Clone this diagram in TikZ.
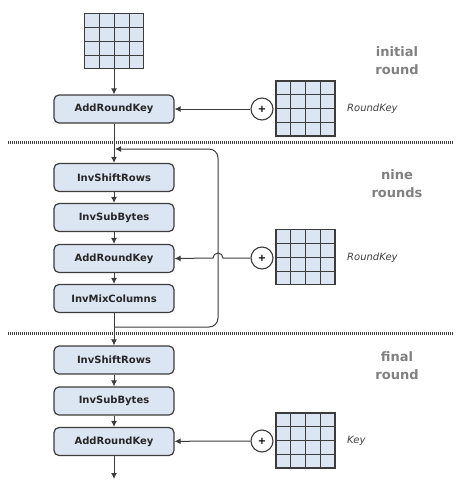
\documentclass[tikz,border=0pt]{standalone}
\usepackage{fontspec}
\setmainfont{DejaVu Sans}
\usetikzlibrary{arrows.meta,calc}
\definecolor{boxfill}{HTML}{DCE6F2}
\definecolor{edge}{HTML}{3C3C3C}
\begin{document}
\begin{tikzpicture}[x=1pt,y=-1pt,
 stage/.style={draw=edge,line width=1.2pt,fill=boxfill,rounded corners=5pt,minimum width=120pt,minimum height=28pt,inner sep=0pt,font=\bfseries\fontsize{10}{12}\selectfont,text=black!85},
 keygrid/.style={draw=edge,line width=1.1pt,fill=boxfill,minimum width=59pt,minimum height=55pt,inner sep=0pt},
 xorc/.style={circle,draw=edge,line width=1.1pt,fill=white,minimum size=22pt,inner sep=0pt,font=\bfseries\fontsize{10}{10}\selectfont},
 flow/.style={draw=edge,line width=1pt,-{Latex[length=6pt,width=6pt]}},
 lbl/.style={font=\bfseries\fontsize{13}{18}\selectfont,text=black!50,align=center},
 keylbl/.style={font=\itshape\fontsize{10}{12}\selectfont,text=black!75,anchor=west,inner sep=0pt},
 sep/.style={draw=edge,line width=3pt,dash pattern=on 1pt off 1pt},
 gridline/.style={draw=edge,line width=0.9pt}]
\useasboundingbox (0,0) rectangle (465,487);
% separators
\draw[sep] (8,142) -- (453,142);
\draw[sep] (8,333) -- (453,333);
% initial round
\node[keygrid] (g0) at (114,41) {};
\node[stage] (ark1) at (114,109) {AddRoundKey};
\node[keygrid] (g1) at (305.5,108.5) {};
\node[xorc] (x1) at (262,109) {+};
\node[lbl] (l1) at (397,61) {initial\\round};
\node[keylbl] (k1) at (347,109) {RoundKey};
% nine rounds
\node[stage] (isr) at (114,177.5) {InvShiftRows};
\node[stage] (isb) at (114,217.5) {InvSubBytes};
\node[stage] (ark2) at (114,258.5) {AddRoundKey};
\node[stage] (imc) at (114,298.5) {InvMixColumns};
\node[keygrid] (g2) at (305.5,257) {};
\node[xorc] (x2) at (262,258) {+};
\node[lbl] (l2) at (397,184) {nine\\rounds};
\node[keylbl] (k2) at (347,258) {RoundKey};
% final round
\node[stage] (isr3) at (114,360) {InvShiftRows};
\node[stage] (isb3) at (114,401) {InvSubBytes};
\node[stage] (ark3) at (114,441.5) {AddRoundKey};
\node[keygrid] (g3) at (305.5,440.5) {};
\node[xorc] (x3) at (262,441) {+};
\node[lbl] (l3) at (397,366) {final\\round};
\node[keylbl] (k3) at (347,441) {Key};
\coordinate (out) at (114,479);
% grid lines
\foreach \g in {g0,g1,g2,g3}{
  \foreach \i in {1,2,3}{
    \draw[gridline] ($(\g.north west)!\i/4!(\g.north east)$) -- ($(\g.south west)!\i/4!(\g.south east)$);
    \draw[gridline] ($(\g.north west)!\i/4!(\g.south west)$) -- ($(\g.north east)!\i/4!(\g.south east)$);
  }
}
% connectors
\draw[flow] (g0) -- (ark1);
\draw[flow] (x1) -- (ark1);
\draw[flow] (ark1) -- (isr);
\draw[flow] (isr) -- (isb);
\draw[flow] (isb) -- (ark2);
\draw[flow] (ark2) -- (imc);
\draw[flow] (imc) -- (isr3);
\draw[flow] (isr3) -- (isb3);
\draw[flow] (isb3) -- (ark3);
\draw[flow] (x3) -- (ark3);
\draw[flow] (ark3) -- (out);
% feedback loop
\coordinate (lb) at (114,327);
\coordinate (lr) at (218,327);
\coordinate (lt) at (115,149);
\draw[flow,rounded corners=9pt] (lb) -- (lr) -- (lr |- lt) -- (lt);
% key into nine rounds with hop over loop
\draw[flow] (x2.west) -- ($(lr |- x2)+(5,0)$) arc[start angle=0,end angle=180,radius=5pt] -- (ark2.east);
\end{tikzpicture}
\end{document}
